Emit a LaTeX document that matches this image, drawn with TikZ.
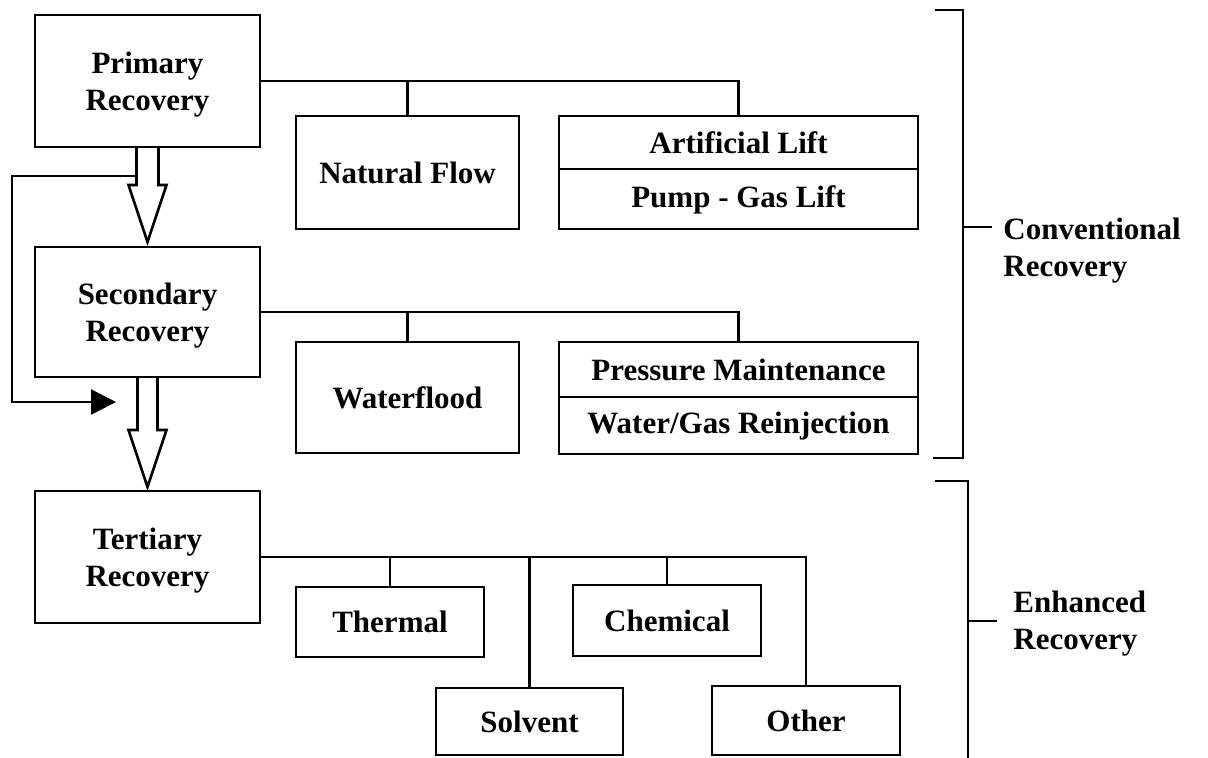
\documentclass[tikz,border=0pt]{standalone}
\usepackage{fontspec}
\setmainfont{Liberation Serif}
\usetikzlibrary{arrows.meta,calc}
\begin{document}
\begin{tikzpicture}[x=0.5pt,y=-0.5pt,
  lbl/.style={font=\bfseries\fontsize{15.5}{18.5}\selectfont},
  box/.style={lbl, draw, line width=1.2pt, inner sep=0pt, outer sep=0pt, align=center},
  stagebox/.style={box, minimum width=112.5pt, text depth=0pt},
  txt/.style={lbl, inner sep=0pt, align=center},
  side/.style={lbl, inner sep=0pt, anchor=west, align=left},
  conn/.style={line width=1.2pt, line join=miter},
  bracket/.style={line width=1.4pt, line join=miter},
  blockarrow/.style={draw, line width=1.3pt, line join=miter}
]
\useasboundingbox (0,0) rectangle (1208,757);

% main stages
\node[stagebox, minimum height=66pt] (prim) at (147.5,81) {Primary\\Recovery};
\node[stagebox, minimum height=65pt] (sec) at (147.5,312) {Secondary\\Recovery};
\node[stagebox, minimum height=66pt] (ter) at (147.5,557) {Tertiary\\Recovery};

% primary methods
\node[box, minimum width=111.5pt, minimum height=56.5pt] (nf) at (407.5,172.5) {Natural Flow};
\node[box, minimum width=179.5pt, minimum height=56.5pt] (al) at (738.5,172.5) {};
\draw[conn] ($(al.north west)+(0,53)$) -- ($(al.north east)+(0,53)$);
\node[txt] (altop) at ($(al.north)+(0,27)$) {Artificial Lift};
\node[txt] (albot) at ($(al.south)+(0,-29)$) {Pump - Gas Lift};

% secondary methods
\node[box, minimum width=111.5pt, minimum height=55.5pt] (wf) at (407.5,397.5) {Waterflood};
\node[box, minimum width=179.5pt, minimum height=56pt] (pm) at (738.5,398) {};
\draw[conn] ($(pm.north west)+(0,55)$) -- ($(pm.north east)+(0,55)$);
\node[txt] (pmtop) at ($(pm.north)+(0,28)$) {Pressure Maintenance};
\node[txt] (pmbot) at ($(pm.south)+(0,-28)$) {Water/Gas Reinjection};

% tertiary methods
\node[box, minimum width=94pt, minimum height=35pt] (th) at (390,622) {Thermal};
\node[box, minimum width=94pt, minimum height=35.5pt] (ch) at (667,620.5) {Chemical};
\node[box, minimum width=93.5pt, minimum height=33.5pt] (so) at (529.5,721.5) {Solvent};
\node[box, minimum width=94pt, minimum height=34.5pt] (ot) at (806,720.5) {Other};

% tree connectors
\draw[conn] (prim.east) -| (al.north);
\draw[conn] (nf.north) -- (nf.north |- prim.east);
\draw[conn] (sec.east) -| (pm.north);
\draw[conn] (wf.north) -- (wf.north |- sec.east);
\draw[conn] (ter.east) -| (ot.north);
\draw[conn] (th.north) -- (th.north |- ter.east);
\draw[conn] (so.north) -- (so.north |- ter.east);
\draw[conn] (ch.north) -- (ch.north |- ter.east);

% hollow block arrows
\draw[blockarrow] ($(prim.south)+(-11,0)$) -- ($(prim.south)+(-11,38)$) -- ($(prim.south)+(-19,38)$)
  -- ($(prim.south)+(0,95)$) -- ($(prim.south)+(19,38)$) -- ($(prim.south)+(11,38)$) -- ($(prim.south)+(11,0)$);
\draw[blockarrow] ($(sec.south)+(-10,0)$) -- ($(sec.south)+(-10,53)$) -- ($(sec.south)+(-19,53)$)
  -- ($(sec.south)+(0,110)$) -- ($(sec.south)+(19,53)$) -- ($(sec.south)+(10,53)$) -- ($(sec.south)+(10,0)$);

% feedback loop
\coordinate (loopstart) at ($(prim.south)+(-11,29)$);
\coordinate (loopx) at (12,0);
\coordinate (looptip) at (116,402);
\draw[conn,-{Triangle[length=12.5pt,width=12.5pt]}] (loopstart) -- (loopstart -| loopx) -- (looptip -| loopx) -- (looptip);

% brackets
\coordinate (b1a) at (935,10);
\coordinate (b1b) at (963,10);
\coordinate (b1c) at (963,458);
\coordinate (b1d) at (933,458);
\coordinate (b1m) at (963,227);
\coordinate (b1t) at (992,227);
\draw[bracket] (b1a) -- (b1b) -- (b1c) -- (b1d);
\draw[bracket] (b1m) -- (b1t);
\node[side] (conv) at (1003,251) {Conventional\\Recovery};

\coordinate (b2a) at (935,481);
\coordinate (b2b) at (968,481);
\coordinate (b2c) at (968,760);
\coordinate (b2m) at (968,621);
\coordinate (b2t) at (997,621);
\draw[bracket] (b2a) -- (b2b) -- (b2c);
\draw[bracket] (b2m) -- (b2t);
\node[side] (enh) at (1013,623.5) {Enhanced\\Recovery};
\end{tikzpicture}
\end{document}
